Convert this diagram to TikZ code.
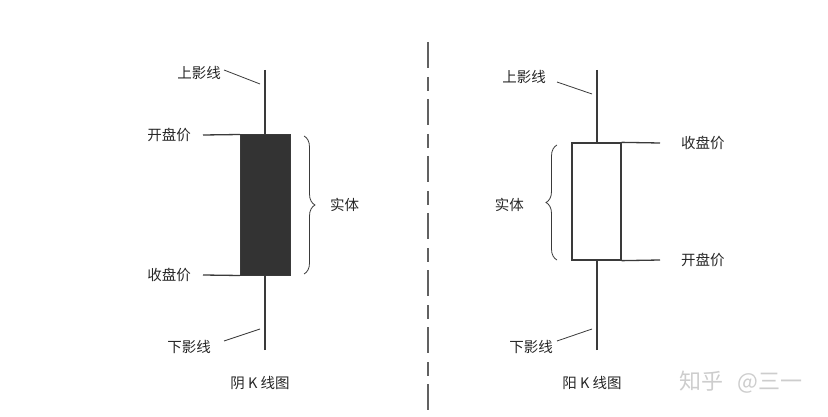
\documentclass[tikz,border=0pt]{standalone}
\usepackage{fontspec}
\setmainfont{Noto Sans CJK SC}
\usetikzlibrary{decorations.pathreplacing}
\definecolor{ink}{HTML}{3A3A3A}
\definecolor{bodyfill}{HTML}{333333}
\definecolor{txt}{HTML}{262626}
\definecolor{wm}{HTML}{CDCDCD}
\begin{document}
\begin{tikzpicture}[x=1pt,y=-1pt,
  lbl/.style={font=\fontsize{14.5}{16}\selectfont, text=txt, inner sep=0pt},
  stroke/.style={draw=ink, line width=1.3pt},
  leader/.style={draw=ink, line width=0.8pt},
  bracestyle/.style={draw=ink, line width=0.8pt, decorate, decoration={brace, amplitude=11pt}},
  divider/.style={draw=ink!80, line width=1.4pt, dash pattern=on 26pt off 9pt on 14pt off 8pt}]
\useasboundingbox (0,0) rectangle (828,417);

% ---------- left: bearish candle ----------
\node (bodyL) [rectangle, draw=ink, fill=bodyfill, line width=1pt, minimum width=50, minimum height=140, inner sep=0] at (265.5,205) {};
\coordinate (tL) at (265,70);
\coordinate (bL) at (265,350);
\draw[stroke] (tL) -- (tL |- bodyL.north);
\draw[stroke] (bL) -- (bL |- bodyL.south);
\coordinate (oLend) at (203,135);
\coordinate (cLend) at (203,275);
\draw[stroke] (oLend) -- (bodyL.north west);
\draw[stroke] (cLend) -- (bodyL.south west);
\node[lbl, anchor=east] (openL) at (191,135) {开盘价};
\node[lbl, anchor=east] (closeL) at (191,275) {收盘价};
\node[lbl, anchor=east] (upL) at (221,73) {上影线};
\node[lbl, anchor=east] (lowL) at (211,347) {下影线};
\coordinate (upLa) at (224,70);
\coordinate (upLb) at (260,84);
\coordinate (lowLa) at (224,341);
\coordinate (lowLb) at (260,329);
\draw[leader] (upLa) -- (upLb);
\draw[leader] (lowLa) -- (lowLb);
\coordinate (brL1) at (304,136);
\coordinate (brL2) at (304,274);
\draw[bracestyle] (brL1) -- (brL2);
\node[lbl, anchor=west] (bodyLabelL) at (330,205) {实体};
\node[lbl] (titleL) at (260,383) {阴 K 线图};

% ---------- divider ----------
\coordinate (dTop) at (428,42);
\coordinate (dBot) at (428,417);
\draw[divider] (dTop) -- (dBot);

% ---------- right: bullish candle ----------
\node (bodyR) [rectangle, draw=ink, fill=white, line width=1.3pt, minimum width=49, minimum height=117, inner sep=0] at (596.5,201.5) {};
\coordinate (tR) at (597,70);
\coordinate (bR) at (597,350);
\draw[stroke] (tR) -- (tR |- bodyR.north);
\draw[stroke] (bR) -- (bR |- bodyR.south);
\coordinate (cRend) at (660,143);
\coordinate (oRend) at (660,260);
\draw[stroke] (bodyR.north east) -- (cRend);
\draw[stroke] (bodyR.south east) -- (oRend);
\node[lbl, anchor=west] (closeR) at (681,143) {收盘价};
\node[lbl, anchor=west] (openR) at (681,260) {开盘价};
\node[lbl, anchor=east] (upR) at (546,77) {上影线};
\node[lbl, anchor=east] (lowR) at (553,347) {下影线};
\coordinate (upRa) at (557,82);
\coordinate (upRb) at (592,94);
\coordinate (lowRa) at (557,341);
\coordinate (lowRb) at (592,329);
\draw[leader] (upRa) -- (upRb);
\draw[leader] (lowRa) -- (lowRb);
\coordinate (brR1) at (557,260);
\coordinate (brR2) at (557,145);
\draw[bracestyle] (brR1) -- (brR2);
\node[lbl, anchor=east] (bodyLabelR) at (524,205) {实体};
\node[lbl] (titleR) at (592,383) {阳 K 线图};

% ---------- watermark ----------
\node[font=\fontsize{22}{24}\selectfont, text=wm, anchor=west, inner sep=0] (wmark) at (679,382) {知乎\hspace{14pt}@三一};
\end{tikzpicture}
\end{document}
